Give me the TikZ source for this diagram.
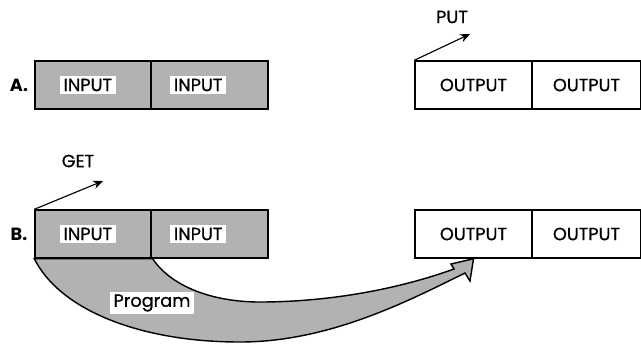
\documentclass[tikz,border=0pt]{standalone}
\usepackage{fontspec}
\setmainfont{Poppins}
\newfontfamily\tagfont{Poppins}[FakeBold=0.7]
\usetikzlibrary{arrows.meta}

\tikzset{
  cell/.style={draw, line width=1pt, minimum height=48*0.707pt, inner sep=0pt},
  inbox/.style={cell, fill=gray!60, minimum width=117*0.707pt},
  outbox/.style={cell, fill=white, minimum width=117*0.707pt},
  tagbox/.style={fill=white, inner xsep=2.5pt, inner ysep=2pt, font=\tagfont\fontsize{12.5}{14}\selectfont},
  rowlabel/.style={font=\bfseries\fontsize{12.5}{14}\selectfont},
  pointer/.style={line width=0.8pt, -{Stealth[length=7pt, width=6pt]}}
}

\begin{document}
\begin{tikzpicture}[x=0.707pt, y=-0.707pt]
  \useasboundingbox (0,0) rectangle (641,343);

  % Row A and row B: input buffers and output buffers
  \foreach \row/\ypos in {A/85, B/234} {
    \node [rowlabel] (lab\row) at (19,\ypos) {\row.};
    \node [inbox] (in\row1) at (93.5,\ypos) {};
    \node [inbox] (in\row2) at (209.5,\ypos) {};
    \node [outbox] (out\row1) at (473.5,\ypos) {};
    \node [outbox, minimum width=109*0.707pt] (out\row2) at (586.5,\ypos) {};
    \node [tagbox] at ([xshift=-4]in\row1.center) {INPUT};
    \node [tagbox] at ([xshift=-8]in\row2.center) {INPUT};
  }
  \node [tagbox, fill=none] (otA1) at (outA1) {OUTPUT};
  \node [tagbox, fill=none] (otA2) at (outA2) {OUTPUT};
  \node [tagbox, fill=none] (otB1) at (outB1) {OUTPUT};
  \node [tagbox, fill=none] (otB2) at (outB2) {OUTPUT};

  % PUT and GET pointers
  \coordinate (putend) at (470,34);
  \node [tagbox, fill=none] (put) at (452,17) {PUT};
  \draw [pointer] (outA1.north west) -- (putend);

  \coordinate (getend) at (103,181);
  \node [tagbox, fill=none] (get) at (78,161) {GET};
  \draw [pointer] (inB1.north west) -- (getend);

  % the program arrow
  \draw [line width=1pt, fill=gray!60, line join=miter]
    (inB1.south west) .. controls (60,310) and (140,342) .. (240,342)
    .. controls (330,342) and (410,300) .. (465,273)
    -- (470,281) -- (outB1.south) -- (451,264) -- (454,269)
    .. controls (390,292) and (320,302) .. (260,302)
    .. controls (210,302) and (170,285) .. (inB1.south east) -- cycle;
  \node [tagbox] (prog) at (152,303) {Program};
\end{tikzpicture}
\end{document}
